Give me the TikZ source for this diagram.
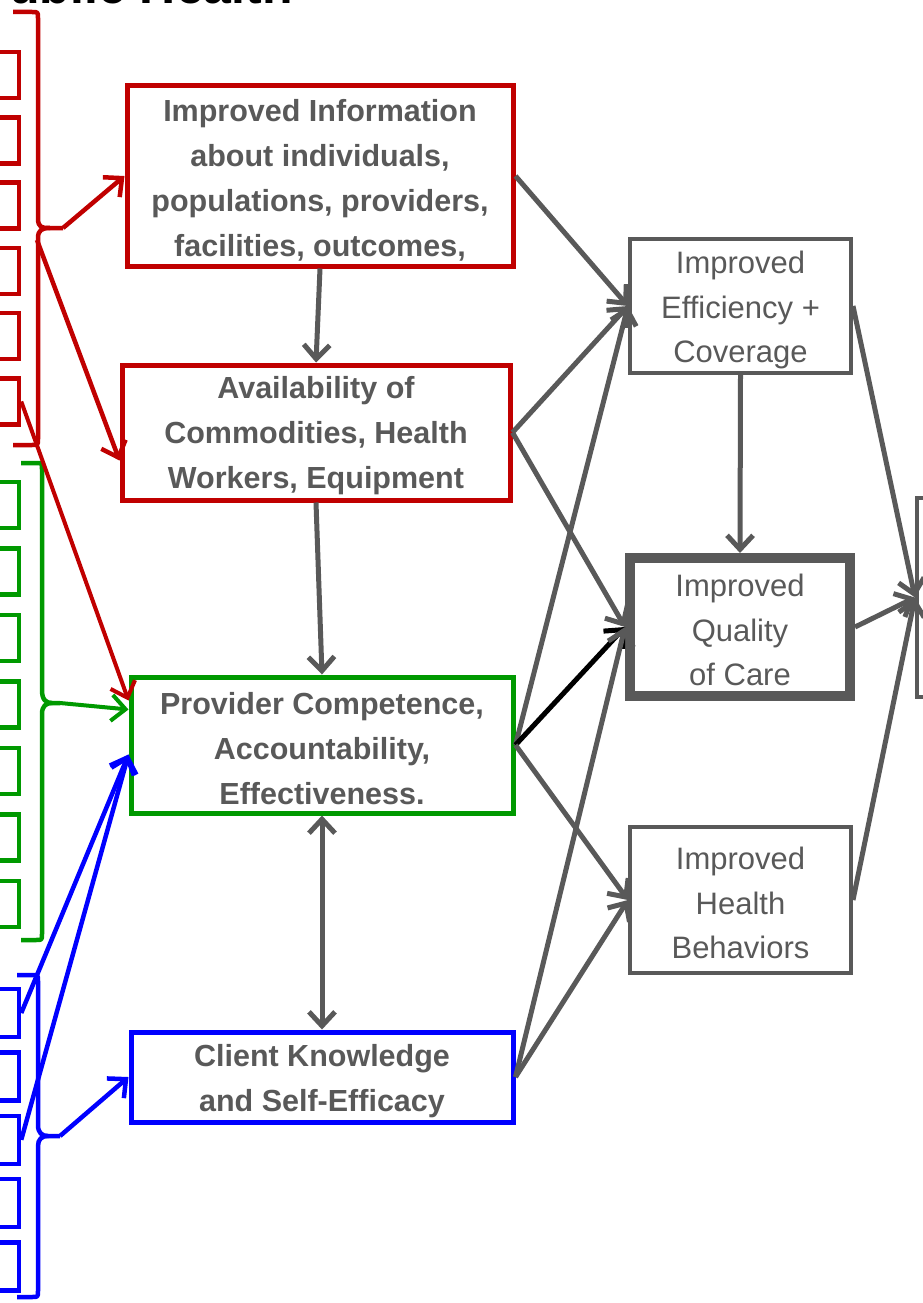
\documentclass[tikz,border=0pt]{standalone}
\usepackage{fontspec}
\setmainfont{Liberation Sans}
\usetikzlibrary{arrows.meta,calc}
\definecolor{tgray}{HTML}{595959}
\definecolor{tred}{HTML}{C00000}
\definecolor{tgreen}{HTML}{009900}
\definecolor{tblue}{HTML}{0000FF}
\tikzset{
  barb/.style={-{Straight Barb[length=14pt,width=26pt]}},
  outcome/.style={draw=tgray, line width=4pt, minimum width=221pt, inner sep=0pt},
  outtext/.style={inner sep=0pt, align=center, text=tgray, font=\fontsize{31}{44.5}\selectfont},
  driver/.style={draw, line width=5pt, inner sep=0pt},
  drvtext/.style={inner sep=0pt, align=center, text=tgray, font=\bfseries\fontsize{30.5}{45}\selectfont},
  stub/.style={draw, line width=4.5pt, minimum width=60pt, minimum height=46pt, inner sep=0pt},
  brace/.style={line width=4.5pt, line join=round},
  link/.style={barb, draw=tgray, line width=5pt},
  feed/.style={barb, line width=4.5pt},
}
\begin{document}
\begin{tikzpicture}[x=1pt,y=-1pt]
\clip (0,0) rectangle (923,1303);

% heading, mostly above the frame
\node[anchor=base east, inner sep=0pt, font=\bfseries\fontsize{50}{60}\selectfont] (title) at (293,4) {Public Health};

% input stubs on the left margin
\foreach \i in {0,...,5}
  \node[stub, draw=tred] (r\i) at (-11,75+65.3*\i) {};
\foreach \i in {0,...,6}
  \node[stub, draw=tgreen] (g\i) at (-11,505+66.5*\i) {};
\foreach \i in {0,...,4}
  \node[stub, draw=tblue, minimum height=48pt] (b\i) at (-11,1013+63.4*\i) {};

% braces grouping the stubs
\draw[brace, tred] (13,12) -- (32,12) .. controls (38,12) .. (38,18) -- (38,218)
  .. controls (38,228) and (42,228) .. (50,228) -- (63,228);
\draw[brace, tred] (50,228) .. controls (42,228) and (38,230) .. (38,238) -- (38,439)
  .. controls (38,445) .. (32,445) -- (13,445);
\coordinate (rtip) at (63,228);
\coordinate (rstem) at (37,240);

\draw[brace, tgreen] (21,463) -- (36,463) .. controls (42,463) .. (42,469) -- (42,690)
  .. controls (42,700) and (46,703) .. (52,703) -- (60,703);
\draw[brace, tgreen] (52,703) .. controls (46,703) and (42,706) .. (42,714) -- (42,934)
  .. controls (42,940) .. (36,940) -- (21,940);
\coordinate (gtip) at (60,703);

\draw[brace, tblue] (17,975) -- (32,975) .. controls (38,975) .. (38,981) -- (38,1125)
  .. controls (38,1133) and (42,1136) .. (48,1136) -- (60,1136);
\draw[brace, tblue] (48,1136) .. controls (42,1136) and (38,1139) .. (38,1146) -- (38,1291)
  .. controls (38,1297) .. (32,1297) -- (17,1297);
\coordinate (btip) at (60,1136);

% driver boxes and their wording
\node[driver, draw=tred, minimum width=386pt, minimum height=180pt] (info) at (320,176) {};
\node[drvtext] (infoT) at ([yshift=-4pt]info.center)
  {Improved Information\\about individuals,\\populations, providers,\\facilities, outcomes,};
\node[driver, draw=tred, minimum width=388pt, minimum height=135pt] (avail) at (316,432.5) {};
\node[drvtext] (availT) at ([yshift=-3pt]avail.center)
  {Availability of\\Commodities, Health\\Workers, Equipment};
\node[driver, draw=tgreen, minimum width=382pt, minimum height=136pt] (prov) at (322,745) {};
\node[drvtext] (provT) at ([yshift=-4pt]prov.center)
  {Provider Competence,\\Accountability,\\Effectiveness.};
\node[driver, draw=tblue, minimum width=382pt, minimum height=90pt] (client) at (322,1077) {};
\node[drvtext] (clientT) at ([yshift=-4pt]client.center)
  {Client Knowledge\\and Self-Efficacy};

% outcome boxes and their wording
\node[outcome, minimum height=134pt] (eff) at (740.5,306) {};
\node[outtext] (effT) at ([yshift=-4pt]eff.center) {Improved\\Efficiency +\\Coverage};
\node[outcome, line width=10pt, minimum width=220pt, minimum height=138pt] (qual) at (740,627) {};
\node[outtext] (qualT) at ([yshift=-3pt]qual.center) {Improved\\Quality\\of Care};
\node[outcome, minimum height=146pt] (beh) at (740.5,900) {};
\node[outtext] (behT) at ([yshift=-3pt]beh.center) {Improved\\Health\\Behaviors};
\node[draw=tgray, line width=4pt, minimum width=90pt, minimum height=199pt, inner sep=0pt] (goal) at (962,597.5) {};

% coloured feeds into the drivers
\draw[feed, tred] (rtip) -- (info.west);
\draw[feed, tred] (rstem) -- ([yshift=-28pt]avail.west);
\draw[feed, tred, line width=4pt] (r5.east) -- ([yshift=-26pt]prov.north west);
\draw[feed, tgreen, line width=4pt] (gtip) -- ([yshift=-35pt]prov.north west);
\draw[feed, tblue] (b0.east) -- ([yshift=-80pt]prov.north west);
\draw[feed, tblue] (b2.east) -- ([yshift=-80pt]prov.north west);
\draw[feed, tblue] (btip) -- (client.west);

% links among the drivers
\draw[link] (info.south) -- (avail.north);
\draw[link] (avail.south) -- (prov.north);
\draw[link, {Straight Barb[length=14pt,width=26pt]}-{Straight Barb[length=14pt,width=26pt]}] (prov.south) -- (client.north);

% links from drivers to outcomes
\draw[link] (info.east) -- (eff.west);
\draw[link] (avail.east) -- (eff.west);
\draw[link] (avail.east) -- (qual.west);
\draw[link] (prov.east) -- (eff.west);
\draw[link, draw=black] (prov.east) -- (qual.west);
\draw[link] (prov.east) -- (beh.west);
\draw[link] (client.east) -- (qual.west);
\draw[link] (client.east) -- (beh.west);

% links among outcomes and to the goal
\draw[link] (eff.south) -- (qual.north);
\draw[link] (eff.east) -- (goal.west);
\draw[link] (qual.east) -- (goal.west);
\draw[link] (beh.east) -- (goal.west);
\end{tikzpicture}
\end{document}
